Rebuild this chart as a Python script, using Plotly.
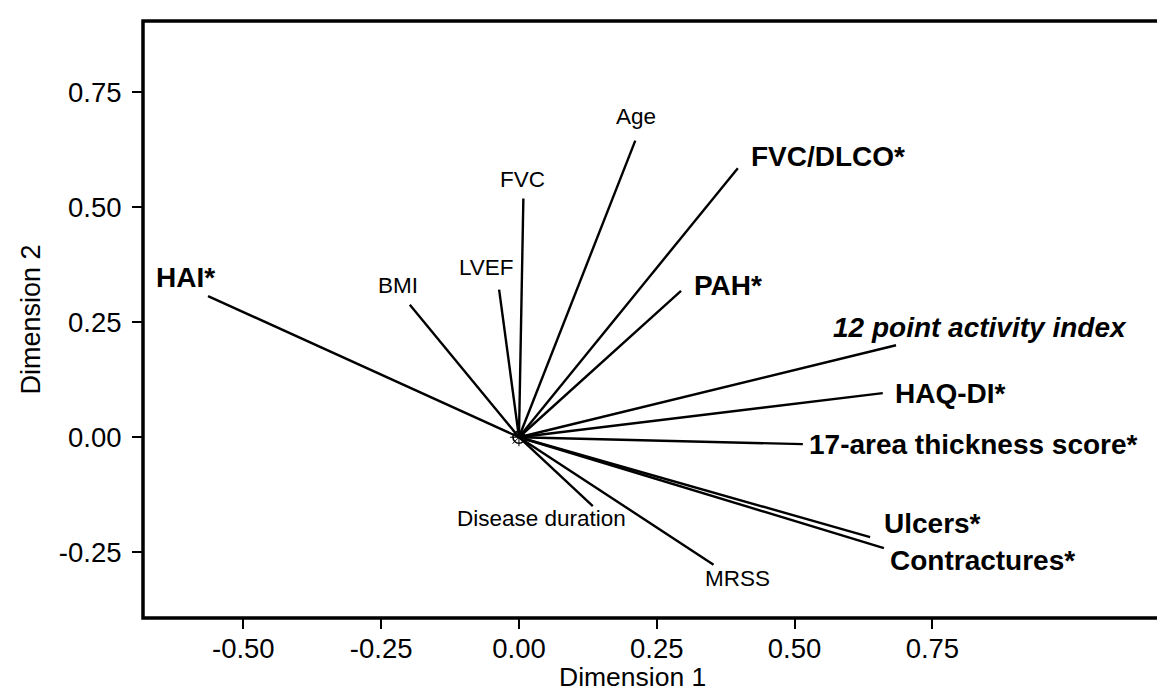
import plotly.graph_objects as go

# Variable labels and their coordinates (Dimension 1, Dimension 2)
labels = ["HAI*", "BMI", "LVEF", "FVC", "Age", "FVC/DLCO*", "PAH*",
          "12 point activity index", "HAQ-DI*", "17-area thickness score*",
          "Ulcers*", "Contractures*", "MRSS", "Disease duration"]
dim1 = [-0.564, -0.198, -0.036, 0.008, 0.211, 0.397, 0.294,
        0.684, 0.660, 0.515, 0.637, 0.662, 0.353, 0.134]
dim2 = [0.307, 0.288, 0.321, 0.519, 0.645, 0.585, 0.318,
        0.200, 0.096, -0.015, -0.217, -0.241, -0.277, -0.150]
significant = [True, False, False, False, False, True, True,
               True, True, True, True, True, False, False]

x_ticks = [-0.50, -0.25, 0.00, 0.25, 0.50, 0.75]
y_ticks = [-0.25, 0.00, 0.25, 0.50, 0.75]

# label placement relative to line end (pixels): xanchor, dx, dy
label_place = {
    "HAI*": ("center", -23, 19),
    "BMI": ("center", -12, 19),
    "LVEF": ("center", -13, 22),
    "FVC": ("center", -1, 19),
    "Age": ("center", 1, 24),
    "FVC/DLCO*": ("left", 11, 12),
    "PAH*": ("left", 11, 5),
    "12 point activity index": ("left", -65, 18),
    "HAQ-DI*": ("left", 10, 0),
    "17-area thickness score*": ("left", 4, 0),
    "Ulcers*": ("left", 12, 14),
    "Contractures*": ("left", 4, -12),
    "MRSS": ("center", 24, -14),
    "Disease duration": ("center", -51, -12),
}

FONT = "Liberation Sans, Arial, Helvetica, sans-serif"

xs, ys = [], []
for a, b in zip(dim1, dim2):
    xs += [0, a, None]
    ys += [0, b, None]

fig = go.Figure()
fig.add_trace(go.Scatter(x=xs, y=ys, mode="lines",
                         line=dict(color="black", width=2.4),
                         hoverinfo="skip", showlegend=False))
fig.add_trace(go.Scatter(x=[0], y=[0], mode="markers",
                         marker=dict(symbol="circle-open", size=12,
                                     color="black", line=dict(width=1.6)),
                         showlegend=False))
fig.add_trace(go.Scatter(x=[0], y=[0], mode="markers",
                         marker=dict(symbol="asterisk-open", size=15,
                                     color="black", line=dict(width=1)),
                         showlegend=False))

for name, a, b, sig in zip(labels, dim1, dim2, significant):
    anchor, dx, dy = label_place[name]
    if sig:
        txt = f"<b><i>{name}</i></b>" if name.startswith("12 point") else f"<b>{name}</b>"
        size = 28
    else:
        txt = name
        size = 22.5
    fig.add_annotation(x=a, y=b, text=txt, showarrow=False,
                       xanchor=anchor, yanchor="middle",
                       xshift=dx, yshift=dy,
                       font=dict(family=FONT, size=size, color="black"))

fig.add_annotation(xref="paper", yref="paper", x=0.477, y=-0.128,
                   text="Dimension 1", showarrow=False,
                   xanchor="center", yanchor="bottom",
                   font=dict(family=FONT, size=26.5, color="black"))
fig.add_annotation(xref="paper", yref="paper", x=-0.110, y=0.5,
                   text="Dimension 2", showarrow=False, textangle=-90,
                   xanchor="center", yanchor="middle",
                   font=dict(family=FONT, size=27, color="black"))

fig.add_shape(type="rect", xref="paper", yref="paper", x0=0, y0=0, x1=1, y1=1,
              line=dict(color="black", width=3.5), fillcolor="rgba(0,0,0,0)")

axis_common = dict(showgrid=False, zeroline=False, showline=False,
                   ticks="outside", ticklen=10, tickwidth=2, tickcolor="black",
                   tickfont=dict(family=FONT, size=27.5, color="black"))

fig.update_xaxes(range=[-0.682, 1.181], tickvals=x_ticks,
                 ticktext=[f"{v:.2f}" for v in x_ticks],
                 ticklabelstandoff=-4, **axis_common)
fig.update_yaxes(range=[-0.393, 0.905], tickvals=y_ticks,
                 ticktext=[f"{v:.2f}" for v in y_ticks],
                 ticklabelstandoff=5, **axis_common)

fig.update_layout(width=1165, height=693,
                  margin=dict(l=135, r=3, t=13, b=83),
                  plot_bgcolor="white", paper_bgcolor="white",
                  showlegend=False)

fig.write_html("out.html")
